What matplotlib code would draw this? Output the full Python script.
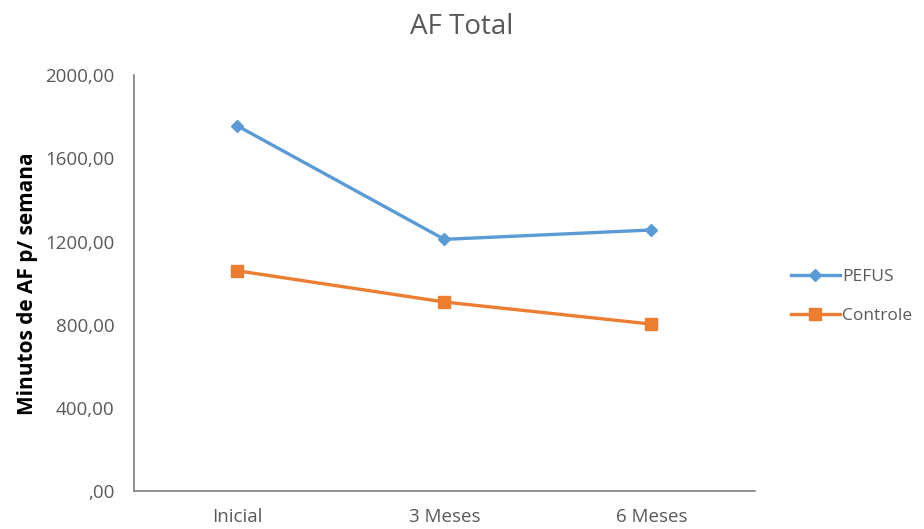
import matplotlib.pyplot as plt

# tempo de acompanhamento e minutos de AF por semana
periodos = ["Inicial", "3 Meses", "6 Meses"]
pefus = [1756, 1211, 1256]
controle = [1060, 910, 804]
yticks = [0, 400, 800, 1200, 1600, 2000]
ytick_labels = [",00", "400,00", "800,00", "1200,00", "1600,00", "2000,00"]

plt.rcParams['font.family'] = ['Open Sans', 'DejaVu Sans']

fig = plt.figure(figsize=(9.24, 5.29), dpi=100)
ax = fig.add_axes([0.145, 0.071, 0.672, 0.787])

x = range(len(periodos))
ax.plot(x, pefus, color="#5B9BD5", lw=2.4, marker="D", ms=6.5, label="PEFUS")
ax.plot(x, controle, color="#ED7D31", lw=2.4, marker="s", ms=8, label="Controle")

ax.set_xlim(-0.5, 2.5)
ax.set_ylim(0, 2000)
ax.set_xticks(list(x))
ax.set_xticklabels(periodos)
ax.set_yticks(yticks)
ax.set_yticklabels(ytick_labels)
ax.tick_params(length=0, labelsize=13.5, colors="#595959")
ax.tick_params(axis="y", pad=14)
ax.tick_params(axis="x", pad=12)

for side in ["top", "right"]:
    ax.spines[side].set_visible(False)
for side in ["left", "bottom"]:
    ax.spines[side].set_color("#7F7F7F")
    ax.spines[side].set_linewidth(1.2)

ax.set_ylabel("Minutos de AF p/ semana", fontsize=15, fontweight="bold", labelpad=5)
fig.suptitle("AF Total", fontsize=20, color="#595959", y=0.975)

leg = fig.legend(loc="center left", bbox_to_anchor=(0.856, 0.44), frameon=False,
                 fontsize=12.5, handlelength=2.8, labelspacing=1.3, handletextpad=0.15,
                 borderaxespad=0, borderpad=0)
for t in leg.get_texts():
    t.set_color("#595959")

fig.savefig("out.png", dpi=100)
